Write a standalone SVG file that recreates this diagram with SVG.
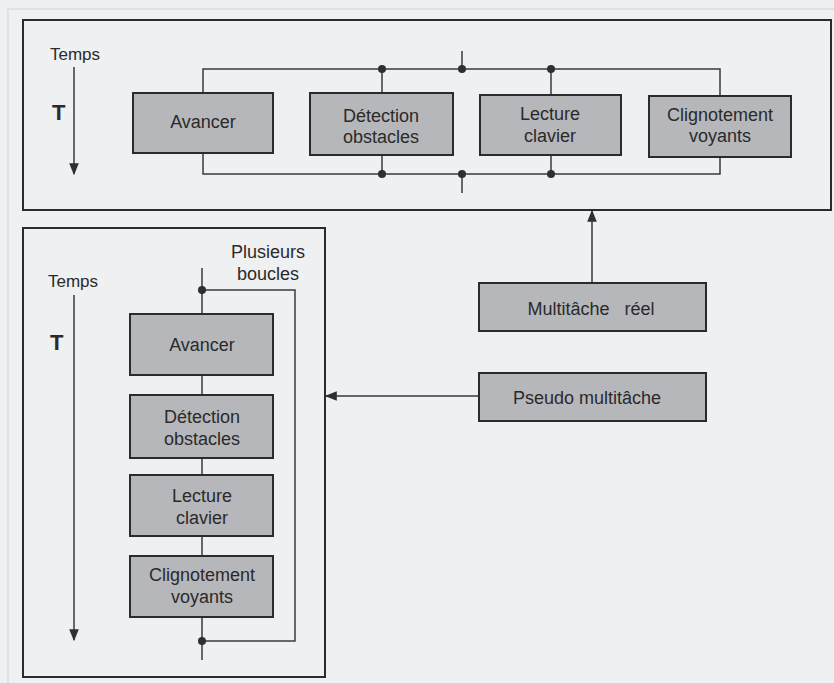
<svg xmlns="http://www.w3.org/2000/svg" width="834" height="683" viewBox="0 0 834 683">
<style>
text{font-family:"Liberation Sans",Arial,sans-serif;font-size:18px;fill:#2a2a2a;text-anchor:middle}
.box{fill:#b6b7bb;stroke:#2b2b2b;stroke-width:2}
.panel{fill:none;stroke:#2b2b2b;stroke-width:2}
.ln{fill:none;stroke:#3a3a3a;stroke-width:1.5}
.dot{fill:#2f2f2f}
.lbl{text-anchor:start;font-size:17px}
.bold{font-weight:bold;text-anchor:start;font-size:22px}
</style>
<defs>
<marker id="ahb" viewBox="0 0 10 10" refX="9" refY="5" markerWidth="14" markerHeight="12" markerUnits="userSpaceOnUse" orient="auto">
<path d="M0,1 L10,5 L0,9 z" fill="#2f2f2f"/>
</marker>
</defs>
<rect width="834" height="683" fill="#eef0f2"/>
<rect x="8" y="9" width="840" height="680" fill="none" stroke="#cfd1d3" stroke-width="1"/>

<g id="panel-reel">
<rect class="panel" x="23" y="20" width="808" height="190"/>
<text class="lbl" x="50" y="60">Temps</text>
<text class="bold" x="52" y="120">T</text>
<line class="ln" x1="74" y1="67" x2="74" y2="174" marker-end="url(#ahb)"/>
</g>

<g id="panel-pseudo">
<rect class="panel" x="23" y="228" width="302" height="449"/>
<text class="lbl" x="48" y="287">Temps</text>
<text class="bold" x="50" y="350">T</text>
<line class="ln" x1="74" y1="295" x2="74" y2="640" marker-end="url(#ahb)"/>
<text x="268" y="258">Plusieurs</text>
<text x="268" y="280">boucles</text>
</g>

<g id="connectors">
<path class="ln" d="M203,93 V69 H720 V96"/>
<path class="ln" d="M203,153 V174 H720 V157"/>
<line class="ln" x1="382" y1="69" x2="382" y2="93"/>
<line class="ln" x1="551" y1="69" x2="551" y2="95"/>
<line class="ln" x1="382" y1="155" x2="382" y2="174"/>
<line class="ln" x1="551" y1="155" x2="551" y2="174"/>
<line class="ln" x1="462" y1="51" x2="462" y2="69"/>
<line class="ln" x1="462" y1="174" x2="462" y2="193"/>
<circle class="dot" cx="382" cy="69" r="4"/>
<circle class="dot" cx="462" cy="69" r="4"/>
<circle class="dot" cx="551" cy="69" r="4"/>
<circle class="dot" cx="382" cy="174" r="4"/>
<circle class="dot" cx="462" cy="174" r="4"/>
<circle class="dot" cx="551" cy="174" r="4"/>
<line class="ln" x1="202" y1="268" x2="202" y2="314"/>
<path class="ln" d="M202,290 H295 V641 H202"/>
<line class="ln" x1="202" y1="375" x2="202" y2="395"/>
<line class="ln" x1="202" y1="458" x2="202" y2="475"/>
<line class="ln" x1="202" y1="536" x2="202" y2="556"/>
<line class="ln" x1="202" y1="617" x2="202" y2="660"/>
<circle class="dot" cx="202" cy="290" r="4"/>
<circle class="dot" cx="202" cy="641" r="4"/>
<line class="ln" x1="592" y1="283" x2="592" y2="211" marker-end="url(#ahb)"/>
<line class="ln" x1="479" y1="396" x2="326" y2="396" marker-end="url(#ahb)"/>
</g>

<g id="t-avancer"><rect class="box" x="133" y="93" width="140" height="60"/><text x="203" y="128">Avancer</text></g>
<g id="t-detection"><rect class="box" x="310" y="93" width="143" height="62"/><text x="381" y="122">Détection</text><text x="381" y="143">obstacles</text></g>
<g id="t-lecture"><rect class="box" x="480" y="95" width="141" height="60"/><text x="550" y="120">Lecture</text><text x="550" y="142">clavier</text></g>
<g id="t-clignotement"><rect class="box" x="649" y="96" width="142" height="61"/><text x="720" y="121">Clignotement</text><text x="720" y="142">voyants</text></g>

<g id="multitache-reel"><rect class="box" x="479" y="283" width="227" height="48"/><text x="591" y="315">Multitâche&#160;&#160; réel</text></g>
<g id="pseudo-multitache"><rect class="box" x="479" y="373" width="227" height="48"/><text x="587" y="404">Pseudo multitâche</text></g>

<g id="s-avancer"><rect class="box" x="130" y="314" width="143" height="61"/><text x="202" y="351">Avancer</text></g>
<g id="s-detection"><rect class="box" x="130" y="395" width="143" height="63"/><text x="202" y="423">Détection</text><text x="202" y="445">obstacles</text></g>
<g id="s-lecture"><rect class="box" x="130" y="475" width="143" height="61"/><text x="202" y="502">Lecture</text><text x="202" y="524">clavier</text></g>
<g id="s-clignotement"><rect class="box" x="130" y="556" width="143" height="61"/><text x="202" y="581">Clignotement</text><text x="202" y="603">voyants</text></g>
</svg>
